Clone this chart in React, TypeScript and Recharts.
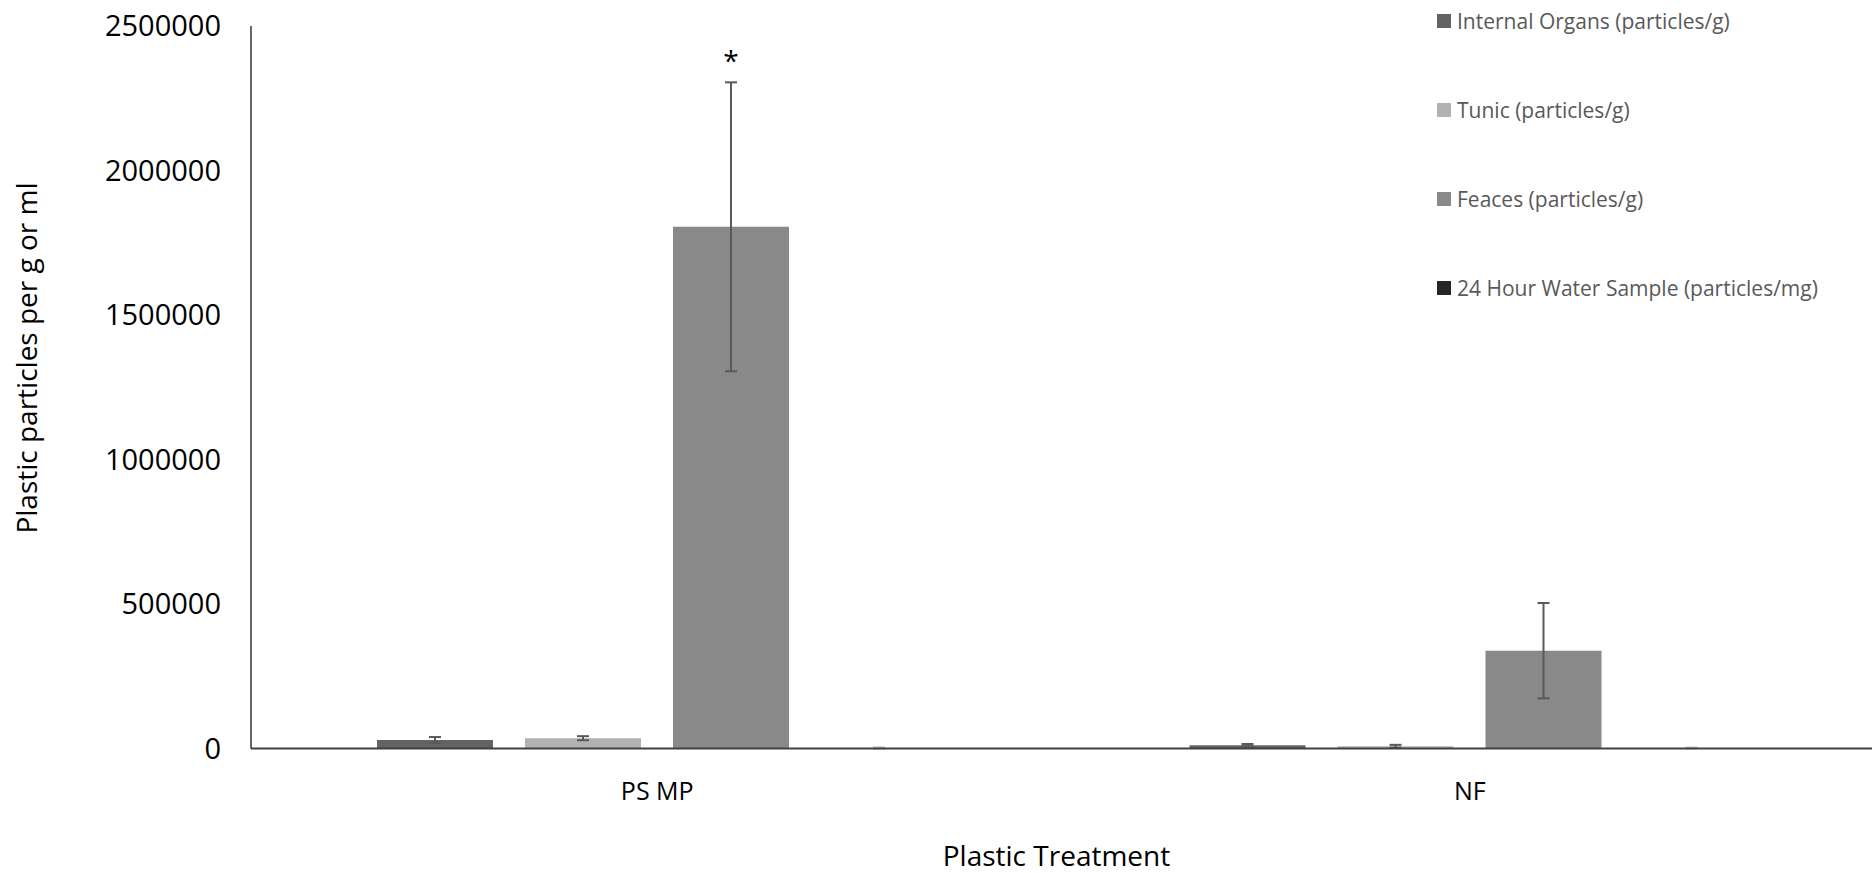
import React from 'react';
import { BarChart, Bar, XAxis, YAxis, ErrorBar, Legend, LabelList, Label } from 'recharts';

const categories = ['PS MP', 'NF'];
const internalOrgans = [29000, 11000];
const internalOrgansErr = [10000, 4000];
const tunic = [35000, 7000];
const tunicErr = [7000, 5000];
const feces = [1805000, 338000];
const fecesErr = [500000, 165000];
const water = [1000, 1000];
const waterErr = [2000, 1500];
const significance = ['*', ''];
const yTicks = [0, 500000, 1000000, 1500000, 2000000, 2500000];

const seriesNames = [
  'Internal Organs (particles/g)',
  'Tunic (particles/g)',
  'Feaces (particles/g)',
  '24 Hour Water Sample (particles/mg)',
];
const seriesColors = ['#636363', '#b2b2b2', '#898989', '#262626'];

const data = categories.map((c, i) => ({
  name: c,
  internal: internalOrgans[i],
  internalErr: internalOrgansErr[i],
  tunic: tunic[i],
  tunicErr: tunicErr[i],
  feces: feces[i],
  fecesErr: fecesErr[i],
  water: water[i],
  waterErr: waterErr[i],
  sig: significance[i],
}));

const FONT = '"Open Sans", sans-serif';

const renderLegend = () => (
  <div style={{ fontFamily: FONT, fontSize: 21, color: '#595959', paddingTop: 7 }}>
    {seriesNames.map((n, i) => (
      <div key={n} style={{ display: 'flex', alignItems: 'center', height: 28, marginBottom: 61 }}>
        <div style={{ width: 14, height: 14, background: seriesColors[i], marginRight: 6 }} />
        <span style={{ whiteSpace: 'nowrap' }}>{n}</span>
      </div>
    ))}
  </div>
);

const renderSig = (props: any) => {
  const { x, y, width, height, index } = props;
  const s = significance[index];
  if (!s) return null;
  const v = feces[index];
  const errTop = y - (fecesErr[index] * height) / v;
  return (
    <text x={x + width / 2} y={errTop - 11} textAnchor="middle" fontFamily={FONT} fontSize={28} fill="#000">
      {s}
    </text>
  );
};

export default function App() {
  return (
    <div style={{ position: 'absolute', left: 0, top: 0, width: 1872, height: 873, overflow: 'hidden', background: '#fff' }}>
      <BarChart
        width={1876}
        height={873}
        data={data}
        margin={{ top: 26, right: 0, bottom: 0, left: 0 }}
        barGap={32}
        barCategoryGap="15.5%"
      >
        <XAxis
          dataKey="name"
          tickLine={false}
          tickSize={0}
          tickMargin={34}
          height={124.4}
          axisLine={{ stroke: '#404040', strokeWidth: 2 }}
          tick={{ fontFamily: FONT, fontSize: 25, fill: '#000' }}
        >
          <Label
            content={(p: any) => {
              const vb = p.viewBox;
              return (
                <text x={vb.x + vb.width / 2 - 7} y={866} textAnchor="middle" fontFamily={FONT} fontSize={28} fill="#000">
                  Plastic Treatment
                </text>
              );
            }}
          />
        </XAxis>
        <YAxis
          domain={[0, 2500000]}
          ticks={yTicks}
          interval={0}
          width={251}
          tickLine={false}
          tickSize={0}
          tickMargin={30}
          axisLine={{ stroke: '#000', strokeWidth: 1.2 }}
          tick={{ fontFamily: FONT, fontSize: 29, fill: '#000' }}
          tickFormatter={(v: number) => String(v)}
        >
          <Label
            content={() => (
              <text x={37} y={358} transform="rotate(-90, 37, 358)" textAnchor="middle" fontFamily={FONT} fontSize={28} fill="#000">
                Plastic particles per g or ml
              </text>
            )}
          />
        </YAxis>
        <Legend
          layout="vertical"
          align="center"
          verticalAlign="middle"
          wrapperStyle={{ left: 1437, top: 0, width: 435 }}
          content={renderLegend}
        />
        <Bar dataKey="internal" name={seriesNames[0]} fill={seriesColors[0]} barSize={116} isAnimationActive={false}>
          <ErrorBar dataKey="internalErr" width={6} stroke="#595959" strokeWidth={2} />
        </Bar>
        <Bar dataKey="tunic" name={seriesNames[1]} fill={seriesColors[1]} barSize={116} isAnimationActive={false}>
          <ErrorBar dataKey="tunicErr" width={6} stroke="#595959" strokeWidth={2} />
        </Bar>
        <Bar dataKey="feces" name={seriesNames[2]} fill={seriesColors[2]} barSize={116} isAnimationActive={false}>
          <ErrorBar dataKey="fecesErr" width={6} stroke="#595959" strokeWidth={2} />
          <LabelList dataKey="sig" content={renderSig} />
        </Bar>
        <Bar dataKey="water" name={seriesNames[3]} fill={seriesColors[3]} barSize={116} isAnimationActive={false}>
          <ErrorBar dataKey="waterErr" width={6} stroke="#bbbbbb" strokeWidth={2} />
        </Bar>
      </BarChart>
    </div>
  );
}
